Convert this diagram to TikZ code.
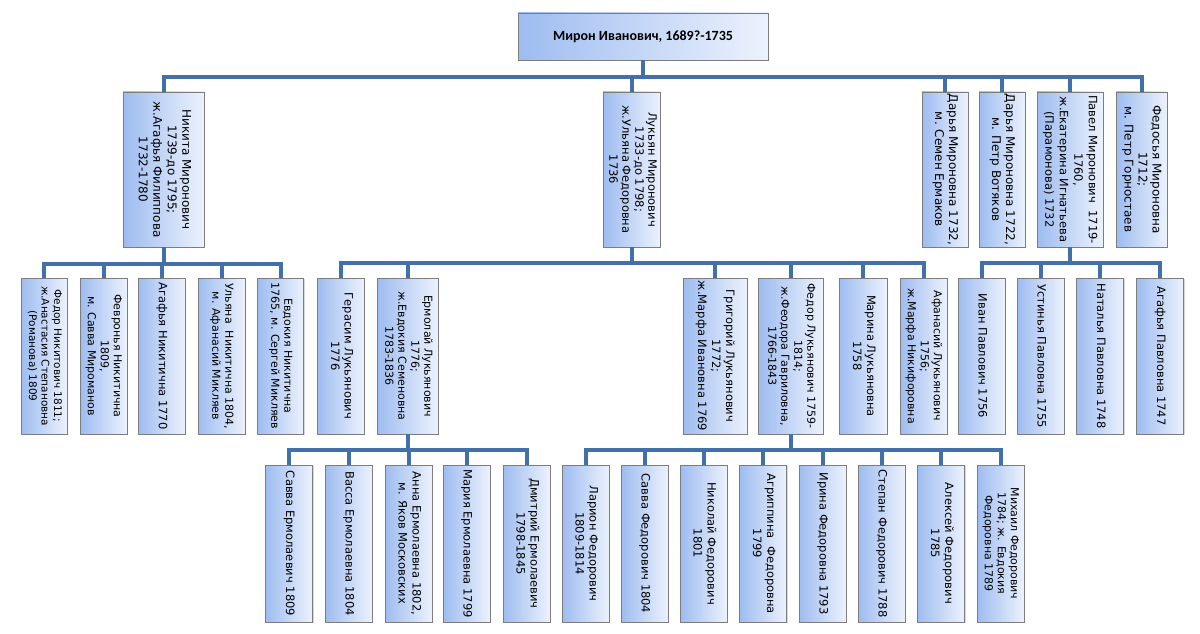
\documentclass[tikz,border=0pt]{standalone}
\usepackage{fontspec}
\setmainfont{DejaVu Sans}
\newfontfamily\dejavu{DejaVu Sans}
\newfontfamily\carlito{Carlito}
\usetikzlibrary{shadows}
\definecolor{boxdark}{RGB}{158,188,240}
\definecolor{boxlight}{RGB}{236,242,253}
\definecolor{boxborder}{RGB}{125,125,125}
\definecolor{linkblue}{RGB}{66,112,168}
\newcommand\vtext[3]{\rotatebox{-90}{\dejavu\fontsize{#1}{#2}\selectfont\begin{tabular}{@{}c@{}}#3\end{tabular}}}
\begin{document}
\begin{tikzpicture}[x=1pt,y=-1pt,
  pbox/.style={draw=boxborder, line width=0.6pt, left color=boxdark, right color=boxlight, inner sep=0pt, text=black,
    drop shadow={shadow xshift=1pt, shadow yshift=-1.2pt, opacity=0.3}},
  l2/.style={pbox, minimum height=155pt},
  l3/.style={pbox, minimum height=156pt},
  l4/.style={pbox, minimum height=157pt, minimum width=47pt},
  conn/.style={draw=linkblue, line width=4pt, line join=miter}]
\fill[white] (0,0) rectangle (1200,634);
\useasboundingbox (0,0) rectangle (1200,634);

% root
\node[pbox, minimum width=250pt, minimum height=47pt, font=\carlito\bfseries\fontsize{14}{16}\selectfont] (root) at (643,36.5) {Мирон Иванович, 1689?-1735};

% level 2
\node[l2, minimum width=81pt] (nik) at (163.5,169.5) {\vtext{12}{14.5}{Никита Миронович\\1739-до 1795;\\ж.Агафья Филиппова\\1732-1780}};
\node[l2, minimum width=57pt] (luk) at (631.5,169.5) {\vtext{11.5}{13}{Лукьян Миронович\\1733-до 1798;\\ж.Ульяна Федоровна\\1736}};
\node[l2, minimum width=46pt] (dar1) at (945,169.5) {\vtext{12}{14}{Дарья Мироновна 1732,\\м. Семен Ермаков}};
\node[l2, minimum width=46pt] (dar2) at (1002,169.5) {\vtext{12}{14}{Дарья Мироновна 1722,\\м. Петр Вотяков}};
\node[l2, minimum width=66pt] (pav) at (1070,169.5) {\vtext{11.5}{14.5}{Павел Миронович~~1719-\\1760,\\ж.Екатерина Игнатьева\\(Парамонова) 1732}};
\node[l2, minimum width=51pt] (fed) at (1141.5,169.5) {\vtext{12}{14}{Федосья Мироновна\\1712;\\м. Петр Горностаев}};

% level 3
\node[l3, minimum width=46pt] (fnik) at (44,356) {\vtext{10.5}{12.5}{Федор Никитович 1811;\\ж.Анастасия Степановна\\(Романова) 1809}};
\node[l3, minimum width=47pt] (fev) at (103.5,356) {\vtext{11}{13}{Февронья Никитична\\1809,\\м. Савва Мироманов}};
\node[l3, minimum width=47pt] (agn) at (161.5,356) {\vtext{11.5}{13}{Агафья Никитична 1770}};
\node[l3, minimum width=47pt] (uln) at (221.5,356) {\vtext{11}{13}{Ульяна~~Никитична 1804,\\м. Афанасий Микляев}};
\node[l3, minimum width=46pt] (evd) at (280.5,356) {\vtext{11}{13}{Евдокия Никитична\\1765, м. Сергей Микляев}};
\node[l3, minimum width=47pt] (ger) at (340.5,356) {\vtext{11.5}{13.5}{Герасим Лукьянович\\1776}};
\node[l3, minimum width=61pt] (erm) at (407.5,356) {\vtext{11}{13}{Ермолай Лукьянович\\1776;\\ж.Евдокия Семеновна\\1783-1836}};
\node[l3, minimum width=64pt] (gri) at (715,356) {\vtext{11.5}{14}{Григорий Лукьянович\\1772;\\ж.Марфа Ивановна 1769}};
\node[l3, minimum width=65pt] (fdl) at (790.5,356) {\vtext{11}{13}{Федор Лукьянович 1759-\\1814;\\ж.Феодора Гавриловна,\\1766-1843}};
\node[l3, minimum width=48pt] (mar) at (863,356) {\vtext{11.5}{14}{Марина Лукьяновна\\1758}};
\node[l3, minimum width=47pt] (afa) at (923.5,356) {\vtext{11}{13}{Афанасий Лукьянович\\1756;\\ж.Марфа Никифоровна}};
\node[l3, minimum width=47pt] (iva) at (981.5,356) {\vtext{11.5}{14}{Иван Павлович 1756}};
\node[l3, minimum width=47pt] (ust) at (1040.5,356) {\vtext{11.5}{14}{Устинья Павловна 1755}};
\node[l3, minimum width=47pt] (nat) at (1100,356) {\vtext{11.5}{14}{Наталья Павловна 1748}};
\node[l3, minimum width=47pt] (aga) at (1160,356) {\vtext{11.5}{14}{Агафья Павловна 1747}};

% level 4
\node[l4] (sav) at (289,543.5) {\vtext{11.5}{14}{Савва Ермолаевич 1809}};
\node[l4] (vas) at (348.5,543.5) {\vtext{11.5}{14}{Васса Ермолаевна 1804}};
\node[l4] (ann) at (408.5,543.5) {\vtext{11.5}{14}{Анна Ермолаевна 1802,\\м. Яков Московских}};
\node[l4] (mari) at (466.5,543.5) {\vtext{11.5}{14}{Мария Ермолаевна 1799}};
\node[l4] (dmi) at (526.5,543.5) {\vtext{11.5}{14}{Дмитрий Ермолаевич\\1798-1845}};
\node[l4] (lar) at (585.5,543.5) {\vtext{11.5}{14}{Ларион Федорович\\1809-1814}};
\node[l4] (savf) at (644.5,543.5) {\vtext{11.5}{14}{Савва Федорович 1804}};
\node[l4] (nik2) at (703.5,543.5) {\vtext{11.5}{14}{Николай Федорович\\1801}};
\node[l4] (agr) at (763,543.5) {\vtext{11.5}{14}{Агриппина~~Федоровна\\1799}};
\node[l4] (iri) at (822.5,543.5) {\vtext{11.5}{14}{Ирина Федоровна 1793}};
\node[l4] (ste) at (881.5,543.5) {\vtext{11.5}{14}{Степан Федорович 1788}};
\node[l4] (ale) at (941,543.5) {\vtext{11.5}{14}{Алексей Федорович\\1785}};
\node[l4] (mih) at (1000.5,543.5) {\vtext{11}{13}{Михаил Федорович\\1784; ж. Евдокия\\Федоровна 1789}};

% connectors
\foreach \c in {nik,luk,dar1,dar2,pav,fed}
  \draw[conn] (root.south) -- (root.south |- 0,77) -| (\c.north);
\foreach \c in {fnik,fev,agn,uln,evd}
  \draw[conn] (nik.south) -- (nik.south |- 0,264) -| (\c.north);
\foreach \c in {ger,erm,gri,fdl,mar,afa}
  \draw[conn] (luk.south) -- (luk.south |- 0,263) -| (\c.north);
\foreach \c in {iva,ust,nat,aga}
  \draw[conn] (pav.south) -- (pav.south |- 0,263) -| (\c.north);
\foreach \c in {sav,vas,ann,mari,dmi}
  \draw[conn] (erm.south) -- (erm.south |- 0,450) -| (\c.north);
\foreach \c in {lar,savf,nik2,agr,iri,ste,ale,mih}
  \draw[conn] (fdl.south) -- (fdl.south |- 0,450) -| (\c.north);
\end{tikzpicture}
\end{document}
